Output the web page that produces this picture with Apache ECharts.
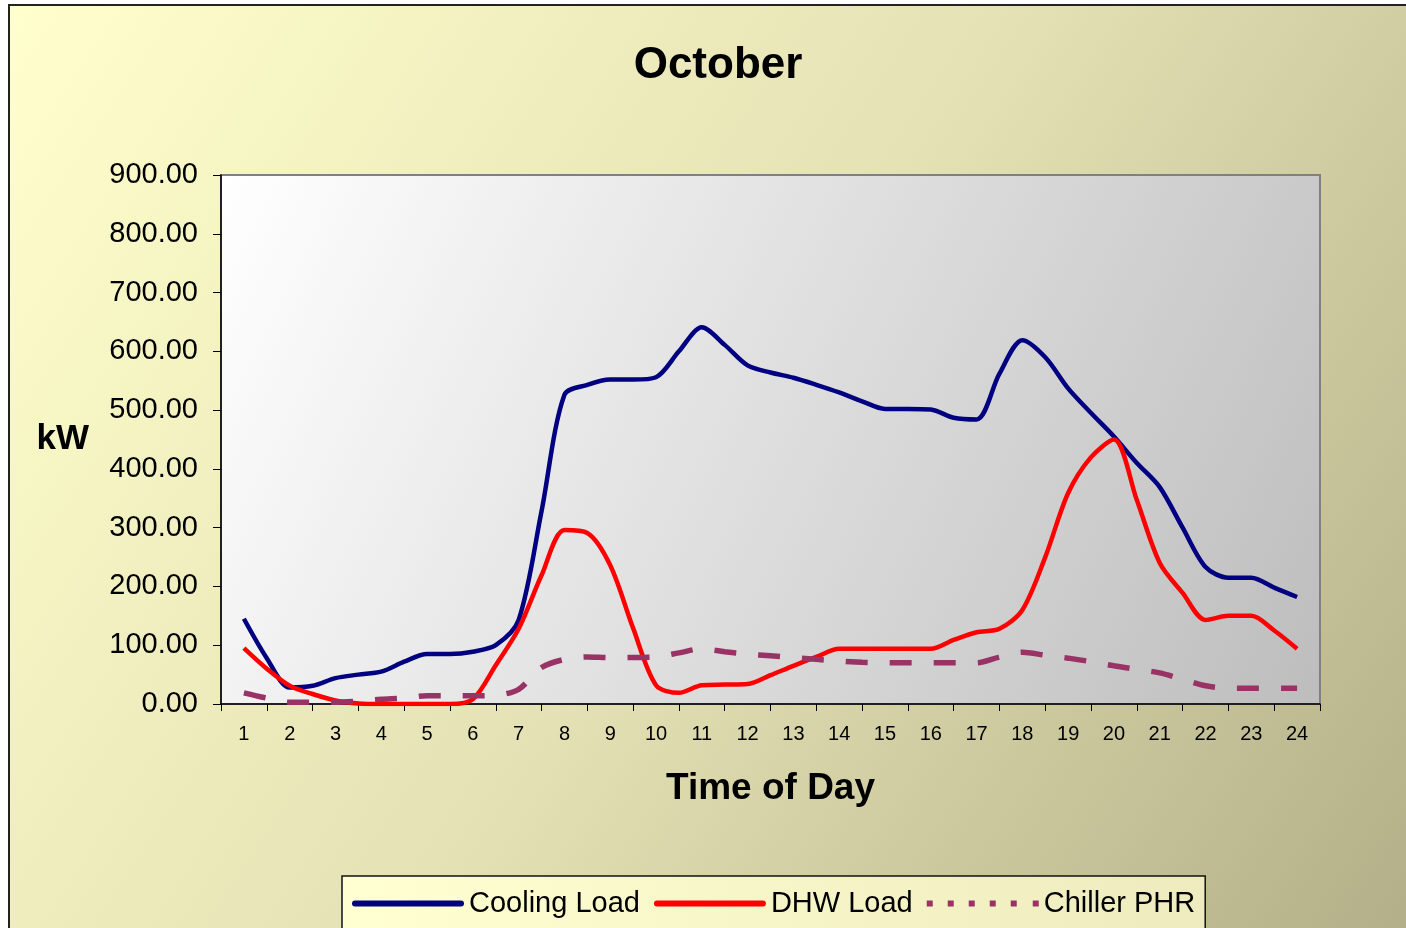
<!DOCTYPE html>
<html>
<head>
<meta charset="utf-8">
<script src="https://cdn.jsdelivr.net/npm/echarts@6/dist/echarts.min.js"></script>
<style>
    html, body { margin: 0; padding: 0; background: #fff; overflow: hidden; }
    #chart {
        position: absolute; left: 8px; top: 4px;
        width: 1410px; height: 936px;
        border-left: 2px solid #222; border-top: 2px solid #222;
    }
</style>
</head>
<body>
<div id="chart"></div>
<script>
    // hour labels on the category axis
    const hourLabels = ['1', '2', '3', '4', '5', '6', '7', '8', '9', '10', '11', '12',
        '13', '14', '15', '16', '17', '18', '19', '20', '21', '22', '23', '24'];

    // half-hour sample times
    const times = [1, 1.5, 2, 2.5, 3, 3.5, 4, 4.5, 5, 5.5, 6, 6.5, 7, 7.5, 8, 8.5,
        9, 9.5, 10, 10.5, 11, 11.5, 12, 12.5, 13, 13.5, 14, 14.5, 15, 15.5, 16, 16.5,
        17, 17.5, 18, 18.5, 19, 19.5, 20, 20.5, 21, 21.5, 22, 22.5, 23, 23.5, 24];

    const coolingLoad = [145, 78, 28, 31, 44, 50, 55, 72, 85, 85, 89, 100, 143, 328, 526, 543,
        552, 552, 556, 600, 641, 611, 576, 564, 555, 543, 530, 515, 502, 502, 501, 487,
        484, 562, 619, 590, 537, 495, 455, 410, 369, 300, 233, 215, 215, 198, 182];

    const dhwLoad = [95, 60, 31, 17, 6, 1, 0, 0, 0, 0, 8, 66, 128, 219, 296, 291,
        236, 129, 32, 19, 32, 33, 34, 49, 65, 80, 94, 94, 94, 94, 94, 109,
        122, 128, 160, 250, 359, 420, 450, 347, 240, 189, 143, 150, 150, 125, 94];

    const chillerPHR = [19, 10, 3, 3, 3, 5, 8, 10, 14, 14, 14, 15, 25, 62, 76, 80,
        79, 79, 80, 87, 94, 89, 85, 82, 79, 76, 73, 71, 70, 70, 70, 70,
        70, 80, 88, 83, 78, 72, 65, 59, 53, 42, 31, 27, 27, 27, 27];

    const font = 'Arial, "Liberation Sans", sans-serif';

    // legend swatches: a solid bar and a row of square dots
    const solidIcon = 'path://M3,0h106a3,3 0 0 1 0,6h-106a3,3 0 0 1 0,-6z';
    const dotIcon = 'path://M0,0h6v6h-6zM21,0h6v6h-6zM42,0h6v6h-6zM63,0h6v6h-6zM84,0h6v6h-6zM106,0h6v6h-6z';

    function pairs (values) {
        return values.map((v, i) => [times[i], v]);
    }

    const chart = echarts.init(document.getElementById('chart'));

    const option = {
        animation: false,
        backgroundColor: {
            type: 'linear', x: 0, y: 0, x2: 1, y2: 1,
            colorStops: [
                {offset: 0, color: '#FFFFCC'},
                {offset: 0.5, color: '#E4E1B4'},
                {offset: 1, color: '#B2AE87'}
            ]
        },
        textStyle: {fontFamily: font},
        title: {
            text: 'October',
            left: 703,
            textAlign: 'center',
            top: 33,
            textStyle: {fontSize: 44, fontWeight: 'bold', color: '#000', fontFamily: font}
        },
        legend: {
            left: 332,
            top: 870,
            itemWidth: 112,
            itemHeight: 6,
            itemGap: 14,
            padding: [13, 10, 30, 10],
            borderColor: '#111',
            borderWidth: 1.5,
            backgroundColor: {
                type: 'linear', x: 0, y: 0, x2: 1, y2: 0,
                colorStops: [
                    {offset: 0, color: '#FFFFD2'},
                    {offset: 1, color: '#EEECBF'}
                ]
            },
            textStyle: {fontSize: 29, color: '#000', fontFamily: font},
            data: [
                {name: 'Cooling Load', icon: solidIcon},
                {name: 'DHW Load', icon: solidIcon},
                {name: 'Chiller PHR', icon: dotIcon}
            ]
        },
        grid: {
            show: true,
            left: 211,
            top: 169,
            width: 1099,
            height: 529,
            backgroundColor: {
                type: 'linear', x: 0, y: 0, x2: 1, y2: 1,
                colorStops: [
                    {offset: 0, color: '#FFFFFF'},
                    {offset: 1, color: '#BDBDBD'}
                ]
            },
            borderColor: '#808080',
            borderWidth: 2
        },
        xAxis: [
            {
                type: 'category',
                data: hourLabels,
                boundaryGap: true,
                axisLine: {lineStyle: {color: '#000', width: 1.5}},
                axisTick: {show: true, length: 7, interval: 0, lineStyle: {color: '#000'}},
                axisLabel: {fontSize: 20, color: '#000', margin: 20, interval: 0, fontFamily: font},
                splitLine: {show: false},
                name: 'Time of Day',
                nameLocation: 'middle',
                nameGap: 66,
                nameTextStyle: {fontSize: 37, fontWeight: 'bold', color: '#000', fontFamily: font}
            },
            {
                type: 'value',
                min: 0.5,
                max: 24.5,
                show: false
            }
        ],
        yAxis: {
            type: 'value',
            min: 0,
            max: 900,
            interval: 100,
            axisLine: {show: true, lineStyle: {color: '#000', width: 1.5}},
            axisTick: {show: true, length: 8, lineStyle: {color: '#000'}},
            splitLine: {show: false},
            axisLabel: {
                fontSize: 29, color: '#000', margin: 23, fontFamily: font,
                formatter: (v) => v.toFixed(2)
            },
            name: 'kW',
            nameLocation: 'middle',
            nameRotate: 0,
            nameGap: 132,
            nameTextStyle: {fontSize: 35, fontWeight: 'bold', color: '#000', fontFamily: font}
        },
        series: [
            {
                name: 'Cooling Load',
                type: 'line',
                xAxisIndex: 1,
                symbol: 'none',
                smooth: 0.3,
                lineStyle: {color: '#000080', width: 4.5},
                itemStyle: {color: '#000080'},
                data: pairs(coolingLoad)
            },
            {
                name: 'DHW Load',
                type: 'line',
                xAxisIndex: 1,
                symbol: 'none',
                smooth: 0.3,
                lineStyle: {color: '#FF0000', width: 4.5},
                itemStyle: {color: '#FF0000'},
                data: pairs(dhwLoad)
            },
            {
                name: 'Chiller PHR',
                type: 'line',
                xAxisIndex: 1,
                symbol: 'none',
                smooth: 0.3,
                lineStyle: {color: '#993366', width: 5.5, type: [22, 22]},
                itemStyle: {color: '#993366'},
                data: pairs(chillerPHR)
            }
        ]
    };

    chart.setOption(option);
</script>
</body>
</html>
